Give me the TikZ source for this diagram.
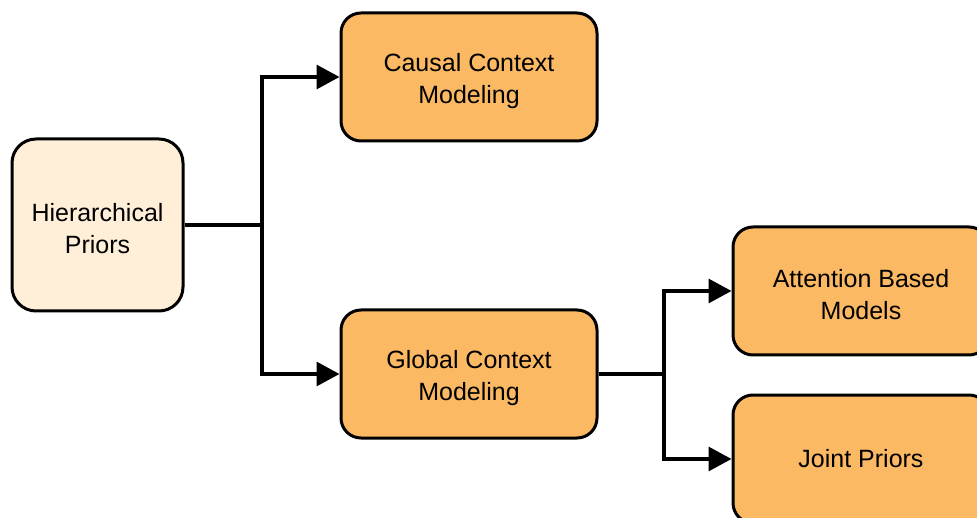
\documentclass[tikz,border=0pt]{standalone}
\usepackage{fontspec}
\setmainfont{Liberation Sans}
\usetikzlibrary{arrows.meta}
\definecolor{leafcol}{HTML}{FBB964}
\definecolor{rootcol}{HTML}{FFEFD9}
\tikzset{
  box/.style={draw=black, line width=3pt, rounded corners=20pt, inner sep=0pt,
    minimum width=256pt, minimum height=128pt, fill=leafcol},
  rootbox/.style={box, fill=rootcol, rounded corners=24pt,
    minimum width=171pt, minimum height=172pt},
  caption/.style={align=center, inner sep=0pt, font=\fontsize{25}{32}\selectfont},
  twoline/.style={caption, yshift=-4pt},
  link/.style={line width=3.2pt},
  arr/.style={link, -{Triangle[length=23pt,width=24pt]}},
}
\begin{document}
\begin{tikzpicture}[x=1pt,y=-1pt]
  \useasboundingbox[clip] (0,0) rectangle (977,518);
  % tree nodes
  \node[rootbox] (hp) at (97.5,225) {};
  \node[box] (ccm) at (469,77) {};
  \node[box] (gcm) at (469,374) {};
  \node[box] (abm) at (861,291) {};
  \node[box] (jp)  at (861,459) {};
  % their captions
  \node[twoline] (hpt)  at (hp.center)  {Hierarchical\\Priors};
  \node[twoline] (ccmt) at (ccm.center) {Causal Context\\Modeling};
  \node[twoline] (gcmt) at (gcm.center) {Global Context\\Modeling};
  \node[twoline] (abmt) at (abm.center) {Attention Based\\Models};
  \node[caption] (jpt)  at (jp.center)  {Joint Priors};
  % branch from the root
  \coordinate (s1) at (262,225);
  \draw[link] (hp.east) -- (s1);
  \draw[arr] (s1) |- (ccm.west);
  \draw[arr] (s1) |- (gcm.west);
  % branch from global context modeling
  \coordinate (s2) at (664,374);
  \draw[link] (gcm.east) -- (s2);
  \draw[arr] (s2) |- (abm.west);
  \draw[arr] (s2) |- (jp.west);
\end{tikzpicture}
\end{document}
